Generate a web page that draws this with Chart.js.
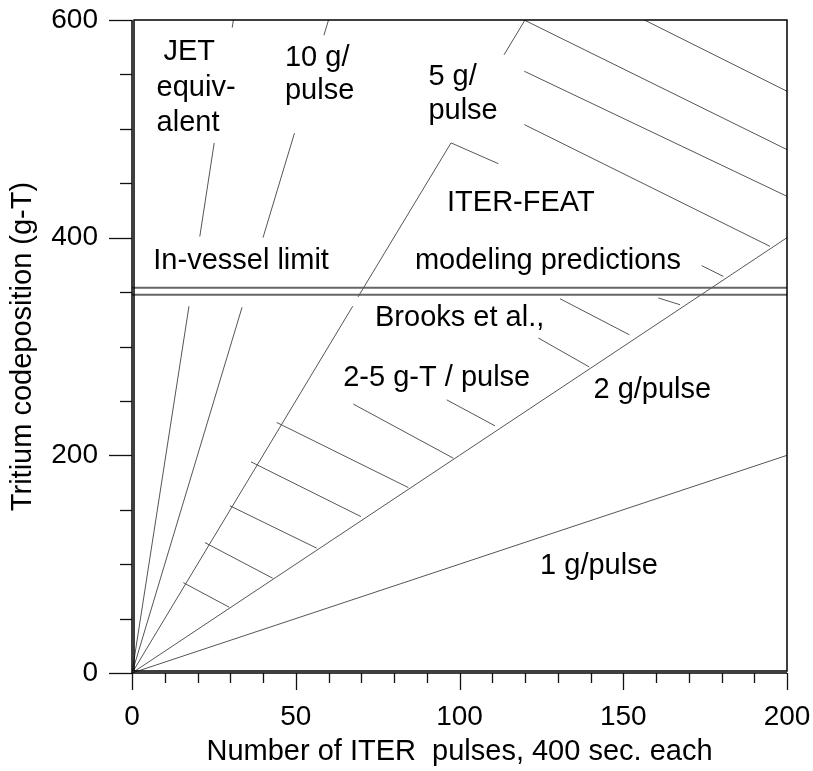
<!DOCTYPE html>
<html>
<head>
<meta charset="utf-8">
<script src="https://cdn.jsdelivr.net/npm/chart.js@4.4.1/dist/chart.umd.min.js"></script>
<style>
html, body { margin: 0; padding: 0; background: #fff; }
#wrap { width: 813px; height: 771px; }
</style>
</head>
<body>
<div id="wrap"><canvas id="chart" width="813" height="771"></canvas></div>
<script>
"use strict";
var xTickLabels = [0, 50, 100, 150, 200];
var yTickLabels = [0, 200, 400, 600];

// g-T vs pulses; null = a break in the drawn line
var jetLine   = [[0, 0], [17.4, 337], null, [20.7, 401], [25.1, 487], null, [30.6, 593], [30.95, 600]];
var tenGLine  = [[0, 0], [33.6, 336], null, [40, 400], [49.6, 496], null, [58.6, 586], [60, 600]];
var fiveGLine = [[0, 0], [67.4, 337], null, [69, 345.5], [97.4, 487], null, [113.6, 568], [120, 600]];
var twoGLine  = [[0, 0], [200, 400]];
var oneGLine  = [[0, 0], [200, 200]];
var limitUpper = [[0, 354], [200, 354]];
var limitLower = [[0, 347.5], [200, 347.5]];

// Brooks et al. band (between 5 g and 2 g lines)
var brooksHatch = [
  [15.66, 83.0], [29.71, 60.4], null,
  [22.29, 119.8], [42.96, 87.1], null,
  [29.92, 153.6], [56.40, 114.7], null,
  [36.34, 194.0], [69.92, 143.7], null,
  [44.18, 230.2], [84.37, 170.4], null,
  [67.57, 247.1], [98.11, 197.4], null,
  [96.09, 251.0], [110.84, 227.1], null,
  [124.06, 307.8], [139.63, 281.2], null,
  [130.69, 343.9], [151.85, 310.8], null,
  [160.70, 344.6], [167.33, 338.4], null,
  [173.95, 374.3], [180.55, 364.4]
];
// ITER-FEAT modeling band
var modelHatch = [
  [119.39, 600.5], [200, 480.9], null,
  [119.79, 552.9], [200, 438.0], null,
  [119.79, 503.9], [194.81, 392.0], null,
  [156.12, 600.5], [200, 534.5], null,
  [97.40, 487.1], [111.85, 468.0]
];

var noteText = ["JET", "equiv-", "alent", "10 g/", "pulse", "5 g/", "pulse", "ITER-FEAT",
  "modeling predictions", "In-vessel limit", "Brooks et al.,", "2-5 g-T / pulse", "2 g/pulse", "1 g/pulse"];
var noteX = [9.6, 7.5, 7.5, 46.7, 46.7, 90.5, 90.5, 96.2, 86.4, 6.5, 74.2, 64.5, 140.9, 124.6];
var noteY = [563.7, 529.9, 497.7, 557.5, 527.8, 540.7, 509.2, 424.2, 371.5, 371.5, 318.4, 263.3, 252.9, 91.0];

function toPoints(arr) {
  var out = [];
  arr.forEach(function (p, i) {
    if (p === null) out.push({x: arr[i - 1][0], y: null});
    else out.push({x: p[0], y: p[1]});
  });
  return out;
}

function lineSet(arr, color, width) {
  return {
    data: toPoints(arr),
    showLine: true,
    spanGaps: false,
    borderColor: color,
    borderWidth: width,
    pointRadius: 0,
    fill: false
  };
}

var FONT = "'Liberation Sans', Arial, sans-serif";

var decor = {
  id: 'decor',
  afterDraw: function (c) {
    var ctx = c.ctx, xs = c.scales.x, ys = c.scales.y, a = c.chartArea;
    ctx.save();
    ctx.strokeStyle = '#111';
    ctx.lineWidth = 1.3;
    // tick marks
    for (var v = 0; v <= 600; v += 50) {
      var py = Math.round(ys.getPixelForValue(v)) + 0.5;
      var len = yTickLabels.indexOf(v) >= 0 ? 23 : 12;
      ctx.beginPath(); ctx.moveTo(a.left - len, py); ctx.lineTo(a.left, py); ctx.stroke();
    }
    for (var u = 0; u <= 200; u += 10) {
      var px = Math.round(xs.getPixelForValue(u)) + 0.5;
      var l2 = xTickLabels.indexOf(u) >= 0 ? 17 : 10;
      ctx.beginPath(); ctx.moveTo(px, a.bottom); ctx.lineTo(px, a.bottom + l2); ctx.stroke();
    }
    // frame and axes
    ctx.lineWidth = 1.5;
    ctx.strokeStyle = '#000';
    ctx.strokeRect(a.left + 2, a.top, a.right - a.left - 2, a.bottom - a.top - 2);
    ctx.beginPath();
    ctx.moveTo(a.left, a.top); ctx.lineTo(a.left, a.bottom);
    ctx.lineTo(a.right, a.bottom);
    ctx.stroke();
    // notes
    ctx.fillStyle = '#000';
    ctx.font = '29px ' + FONT;
    ctx.textAlign = 'left';
    ctx.textBaseline = 'alphabetic';
    noteText.forEach(function (t, i) {
      ctx.fillText(t, xs.getPixelForValue(noteX[i]), ys.getPixelForValue(noteY[i]));
    });
    ctx.restore();
  }
};

var chart = new Chart(document.getElementById('chart').getContext('2d'), {
  type: 'scatter',
  data: {
    datasets: [
      lineSet(jetLine, '#555', 1),
      lineSet(tenGLine, '#555', 1),
      lineSet(fiveGLine, '#555', 1),
      lineSet(twoGLine, '#555', 1),
      lineSet(oneGLine, '#555', 1),
      lineSet(brooksHatch, '#555', 1),
      lineSet(modelHatch, '#555', 1),
      lineSet(limitUpper, '#666', 2),
      lineSet(limitLower, '#666', 2)
    ]
  },
  options: {
    responsive: false,
    animation: false,
    devicePixelRatio: 1,
    layout: { padding: 0 },
    plugins: { legend: { display: false }, tooltip: { enabled: false } },
    scales: {
      x: {
        type: 'linear', position: 'bottom', min: 0, max: 200,
        afterFit: function (s) {
          s.height = 98;
          s.paddingLeft = 0; s.paddingRight = 26;
        },
        grid: { display: false, drawTicks: false },
        border: { display: false },
        ticks: { stepSize: 50, padding: 27, color: '#000', font: { family: FONT, size: 28 } },
        title: {
          display: true, text: 'Number of ITER  pulses, 400 sec. each', color: '#000',
          font: { family: FONT, size: 29 }, padding: { top: 0, bottom: 2 }
        }
      },
      y: {
        type: 'linear', position: 'left', min: 0, max: 600,
        afterFit: function (s) {
          s.width = 132;
          s.paddingTop = 20; s.paddingBottom = 0;
        },
        grid: { display: false, drawTicks: false },
        border: { display: false },
        ticks: { stepSize: 200, padding: 34, color: '#000', font: { family: FONT, size: 28 } },
        title: {
          display: true, text: 'Tritium codeposition (g-T)', color: '#000',
          font: { family: FONT, size: 29 }, padding: { top: 6, bottom: 0 }
        }
      }
    }
  },
  plugins: [decor]
});
</script>
</body>
</html>
